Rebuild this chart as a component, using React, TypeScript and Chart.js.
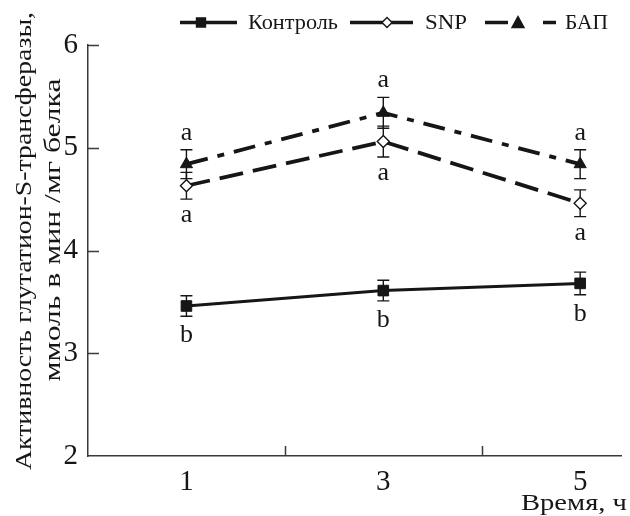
import React, { useEffect, useRef } from 'react';
import { Chart, registerables } from 'chart.js';

Chart.register(...registerables);

// ---- data ----
const times = [1, 3, 5];
const controlMean = [3.46, 3.61, 3.68];
const controlErr = [0.1, 0.1, 0.11];
const snpMean = [4.63, 5.06, 4.46];
const snpErr = [0.13, 0.15, 0.13];
const bapMean = [4.84, 5.34, 4.84];
const bapErr = [0.14, 0.15, 0.14];
const controlLetters = ['b', 'b', 'b'];
const snpLetters = ['a', 'a', 'a'];
const bapLetters = ['a', 'a', 'a'];
const seriesNames = ['Контроль', 'SNP', 'БАП'];
const xTickValues = [1, 2, 3, 4, 5];
const xLabelValues = [1, 3, 5];
const xMarkValues = [2, 4];
const yTickValues = [3, 4, 5, 6];
const xTitle = 'Время, ч';
const yTitleLines = ['Активность глутатион-S-трансферазы,', 'ммоль в мин /мг белка'];

const FONT = '"Liberation Serif", "DejaVu Serif", serif';
const INK = '#161616';
const AXIS = '#3a3a3a';

function fitText(ctx: CanvasRenderingContext2D, text: string, x: number, y: number, width: number, align: CanvasTextAlign) {
  const w = ctx.measureText(text).width || 1;
  const s = width / w;
  ctx.save();
  ctx.translate(x, y);
  ctx.scale(s, 1);
  ctx.textAlign = align;
  ctx.fillText(text, 0, 0);
  ctx.restore();
}

const overlayPlugin = {
  id: 'overlay',
  beforeDatasetsDraw(chart: any) {
    const { ctx, scales } = chart;
    const xs = scales.x;
    const ys = scales.y;
    const groups = [
      { mean: controlMean, err: controlErr },
      { mean: snpMean, err: snpErr },
      { mean: bapMean, err: bapErr },
    ];
    ctx.save();
    ctx.strokeStyle = INK;
    ctx.lineWidth = 1.4;
    ctx.setLineDash([]);
    groups.forEach((g) => {
      times.forEach((t, i) => {
        const px = xs.getPixelForValue(t);
        const top = ys.getPixelForValue(g.mean[i] + g.err[i]);
        const bot = ys.getPixelForValue(g.mean[i] - g.err[i]);
        ctx.beginPath();
        ctx.moveTo(px, top);
        ctx.lineTo(px, bot);
        ctx.moveTo(px - 6, top);
        ctx.lineTo(px + 6, top);
        ctx.moveTo(px - 6, bot);
        ctx.lineTo(px + 6, bot);
        ctx.stroke();
      });
    });
    ctx.restore();
  },
  afterDraw(chart: any) {
    const { ctx, scales, chartArea } = chart;
    const xs = scales.x;
    const ys = scales.y;
    ctx.save();
    // inward tick marks
    ctx.strokeStyle = AXIS;
    ctx.lineWidth = 1.5;
    ctx.beginPath();
    yTickValues.forEach((v) => {
      const py = Math.round(ys.getPixelForValue(v)) + 0.5;
      ctx.moveTo(chartArea.left, py);
      ctx.lineTo(chartArea.left + 11, py);
    });
    xMarkValues.forEach((v) => {
      const px = Math.round(xs.getPixelForValue(v)) + 0.5;
      ctx.moveTo(px, chartArea.bottom);
      ctx.lineTo(px, chartArea.bottom - 10);
    });
    ctx.stroke();

    // significance letters
    ctx.fillStyle = INK;
    ctx.font = `26px ${FONT}`;
    ctx.textAlign = 'center';
    ctx.textBaseline = 'alphabetic';
    times.forEach((t, i) => {
      const px = xs.getPixelForValue(t);
      ctx.fillText(bapLetters[i], px, ys.getPixelForValue(bapMean[i] + bapErr[i]) - 10);
      ctx.fillText(snpLetters[i], px, ys.getPixelForValue(snpMean[i] - snpErr[i]) + 23);
      ctx.fillText(controlLetters[i], px, ys.getPixelForValue(controlMean[i] - controlErr[i]) + 26);
    });

    // axis titles
    ctx.font = `23px ${FONT}`;
    fitText(ctx, xTitle, 627, 510, 106, 'right');
    ctx.save();
    ctx.translate(31, 241);
    ctx.rotate(-Math.PI / 2);
    ctx.font = `24px ${FONT}`;
    fitText(ctx, yTitleLines[0], 0, 0, 458, 'center');
    ctx.restore();
    ctx.save();
    ctx.translate(60, 230);
    ctx.rotate(-Math.PI / 2);
    ctx.font = `24px ${FONT}`;
    fitText(ctx, yTitleLines[1], 0, 0, 303, 'center');
    ctx.restore();

    // legend
    const items = [
      { ds: 0, x0: 180, x1: 237, mx: 201, tx: 248, tw: 90, dash: [] as number[] },
      { ds: 1, x0: 350, x1: 413, mx: 387, tx: 425, tw: 42, dash: [] as number[] },
      { ds: 2, x0: 485, x1: 556, mx: 518, tx: 565, tw: 43, dash: [23, 35, 13, 100] },
    ];
    const ly = 22.5;
    items.forEach((it) => {
      const d = chart.data.datasets[it.ds];
      ctx.save();
      ctx.strokeStyle = INK;
      ctx.lineWidth = 3.5;
      ctx.setLineDash(it.dash);
      ctx.beginPath();
      ctx.moveTo(it.x0, ly);
      ctx.lineTo(it.x1, ly);
      ctx.stroke();
      ctx.setLineDash([]);
      ctx.lineWidth = 1.4;
      ctx.fillStyle = d.pointBackgroundColor;
      ctx.strokeStyle = INK;
      ctx.beginPath();
      if (d.pointStyle === 'rect') {
        ctx.rect(it.mx - 4.5, ly - 4.5, 9, 9);
      } else if (d.pointStyle === 'rectRot') {
        ctx.moveTo(it.mx, ly - 5);
        ctx.lineTo(it.mx + 5, ly);
        ctx.lineTo(it.mx, ly + 5);
        ctx.lineTo(it.mx - 5, ly);
        ctx.closePath();
      } else {
        ctx.moveTo(it.mx, ly - 6);
        ctx.lineTo(it.mx + 6, ly + 5);
        ctx.lineTo(it.mx - 6, ly + 5);
        ctx.closePath();
      }
      ctx.fill();
      ctx.stroke();
      ctx.fillStyle = INK;
      ctx.font = `20px ${FONT}`;
      ctx.textBaseline = 'middle';
      fitText(ctx, seriesNames[it.ds], it.tx, ly + 1, it.tw, 'left');
      ctx.restore();
    });
    ctx.restore();
  },
};

export default function App() {
  const ref = useRef<HTMLCanvasElement | null>(null);
  useEffect(() => {
    if (!ref.current) return;
    const toXY = (m: number[]) => times.map((t, i) => ({ x: t, y: m[i] }));
    const chart = new Chart(ref.current, {
      type: 'line',
      data: {
        datasets: [
          {
            label: seriesNames[0],
            data: toXY(controlMean),
            borderColor: INK,
            borderWidth: 3,
            pointStyle: 'rect',
            pointRadius: 7.5,
            pointBackgroundColor: INK,
            pointBorderColor: INK,
            pointBorderWidth: 1,
          },
          {
            label: seriesNames[1],
            data: toXY(snpMean),
            borderColor: INK,
            borderWidth: 3.8,
            borderDash: [24, 10],
            pointStyle: 'rectRot',
            pointRadius: 6,
            pointBackgroundColor: '#ffffff',
            pointBorderColor: INK,
            pointBorderWidth: 1.4,
          },
          {
            label: seriesNames[2],
            data: toXY(bapMean),
            borderColor: INK,
            borderWidth: 3.8,
            borderDash: [22, 10, 7, 10],
            pointStyle: 'triangle',
            pointRadius: 7,
            pointBackgroundColor: INK,
            pointBorderColor: INK,
            pointBorderWidth: 1,
          },
        ] as any,
      },
      options: {
        animation: false,
        responsive: false,
        layout: { padding: { top: 45, right: 0, left: 0, bottom: 0 } },
        plugins: {
          legend: { display: false },
          tooltip: { enabled: false },
        },
        scales: {
          x: {
            type: 'linear',
            min: 0,
            max: 5.42,
            afterFit: (s: any) => { s.height = 60; },
            afterBuildTicks: (s: any) => { s.ticks = xTickValues.map((v) => ({ value: v })); },
            grid: { display: false, drawTicks: false },
            border: { display: true, color: AXIS, width: 1.5 },
            ticks: {
              padding: 9,
              color: INK,
              font: { family: FONT, size: 29 },
              maxRotation: 0,
              autoSkip: false,
              callback: (v: any) => (xLabelValues.includes(Number(v)) ? String(v) : ''),
            },
          },
          y: {
            type: 'linear',
            min: 2,
            max: 6,
            afterFit: (s: any) => { s.width = 88; },
            grid: { display: false, drawTicks: false },
            border: { display: true, color: AXIS, width: 1.5 },
            ticks: {
              stepSize: 1,
              padding: 10,
              color: INK,
              font: { family: FONT, size: 29 },
            },
          },
        },
      } as any,
      plugins: [overlayPlugin],
    });
    return () => chart.destroy();
  }, []);
  return (
    <div style={{ position: 'absolute', left: 0, top: 0, width: 630, height: 516, background: '#fff' }}>
      <canvas ref={ref} width={630} height={516} style={{ display: 'block' }} />
    </div>
  );
}
